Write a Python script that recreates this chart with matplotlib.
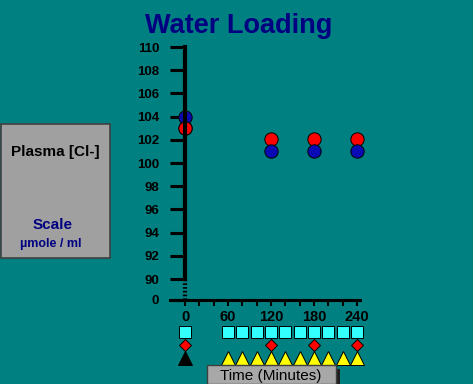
import matplotlib
matplotlib.use('Agg')
import matplotlib.pyplot as plt
from matplotlib.patches import Rectangle

plt.rcParams['font.family'] = ['Liberation Sans', 'DejaVu Sans']

# 数据
times = [0, 120, 180, 240]
red_vals = [103, 102.1, 102.1, 102.1]
blue_vals = [104, 101, 101, 101]

y_ticks = [88.19, 90, 92, 94, 96, 98, 100, 102, 104, 106, 108, 110]
y_labels = ['0', '90', '92', '94', '96', '98', '100', '102', '104', '106', '108', '110']
x_major = [0, 60, 120, 180, 240]
x_minor = list(range(0, 241, 20))

# 采样时间
square_t = [0, 60, 80, 100, 120, 140, 160, 180, 200, 220, 240]
diamond_t = [0, 120, 180, 240]
black_tri_t = [0]
yellow_tri_t = [60, 80, 100, 120, 140, 160, 180, 200, 220, 240]

W, H = 473, 384
bg = '#008080'
navy = '#000080'

fig = plt.figure(figsize=(W / 100, H / 100), dpi=100, facecolor=bg)

k = 172 / 240  # 像素/分钟
x0px = 185
left_px, right_px = 170, 362
xlim = ((left_px - x0px) / k, (right_px - x0px) / k)


def box(l, t, r, b):
    return [l / W, 1 - b / H, (r - l) / W, (b - t) / H]


# 主图
ax = fig.add_axes(box(left_px, 47, right_px, 300))
ax.set_facecolor('none')
ax.set_xlim(xlim)
ax.set_ylim(88.19, 110)
for s in ['top', 'right']:
    ax.spines[s].set_visible(False)
ax.spines['left'].set_position(('data', 0))
ax.spines['left'].set_bounds(90, 110)
ax.spines['left'].set_linewidth(3)
ax.spines['bottom'].set_linewidth(2.2)
ax.spines['bottom'].set_bounds(xlim[0], 244)

ax.set_yticks(y_ticks)
ax.set_yticklabels(y_labels, fontsize=9.5, fontweight='bold')
ax.tick_params(axis='y', direction='out', length=11, width=2.2, pad=7.5)

ax.set_xticks(x_major)
ax.set_xticklabels([str(v) for v in x_major], fontsize=10.5, fontweight='bold')
ax.set_xticks(x_minor, minor=True)
ax.tick_params(axis='x', which='both', direction='out', length=4, width=1.5, pad=3)

# 坐标轴断开处
ax.plot([0, 0], [88.19, 90], color='black', lw=3, dashes=(0.4, 0.5), clip_on=False)

ax.plot(times, red_vals, 'o', ms=9.6, color='#ff0000', mec='black', mew=0.7, clip_on=False)
ax.plot(times, blue_vals, 'o', ms=9.6, color='#0a0ab4', mec='black', mew=0.7, clip_on=False)
# 0 分钟处红点在上
ax.plot(times[:1], red_vals[:1], 'o', ms=9.6, color='#ff0000', mec='black', mew=0.7, clip_on=False)

# 下方时间标记
ax2 = fig.add_axes(box(left_px, 322, right_px, 366))
ax2.set_xlim(xlim)
ax2.set_ylim(44, 0)
ax2.axis('off')
ax2.plot(square_t, [10] * len(square_t), 's', ms=9, color='#33ffff', mec='black', mew=0.7, clip_on=False)
ax2.plot(diamond_t, [23] * len(diamond_t), 'D', ms=6.5, color='#ff0000', mec='black', mew=0.7, clip_on=False)
ax2.plot(black_tri_t, [35.5] * len(black_tri_t), '^', ms=9.5, color='black', mec='black', mew=0.7, clip_on=False)
ax2.plot(yellow_tri_t, [35.5] * len(yellow_tri_t), '^', ms=9.5, color='#ffff00', mec='black', mew=0.7, clip_on=False)

# 标题
fig.text(239 / W, 1 - 33 / H, 'Water Loading', fontsize=19.5, fontweight='bold',
         color=navy, ha='center', va='baseline')

# 左侧说明框
fig.add_artist(Rectangle((1 / W, 1 - 258 / H), 109 / W, 134 / H, transform=fig.transFigure,
                         facecolor='#a0a0a0', edgecolor='#404040', lw=1.2))
fig.text(55 / W, 1 - 152 / H, 'Plasma [Cl-]', fontsize=11, fontweight='bold',
         color='black', ha='center', va='center')
fig.text(53 / W, 1 - 225 / H, 'Scale', fontsize=11, fontweight='bold',
         color=navy, ha='center', va='center')
fig.text(51 / W, 1 - 244 / H, 'µmole / ml', fontsize=9, fontweight='bold',
         color=navy, ha='center', va='center')

# 时间标签框
fig.add_artist(Rectangle((336 / W, 0), 4 / W, (384 - 369) / H, transform=fig.transFigure,
                         facecolor='#202020', edgecolor='none'))
fig.add_artist(Rectangle((207 / W, 0), 129 / W, (384 - 365) / H, transform=fig.transFigure,
                         facecolor='#a8a8a8', edgecolor='#404040', lw=1))
fig.text(271 / W, 1 - 376 / H, 'Time (Minutes)', fontsize=11, color='black',
         ha='center', va='center')

fig.savefig('out.png', dpi=100, facecolor=bg)
